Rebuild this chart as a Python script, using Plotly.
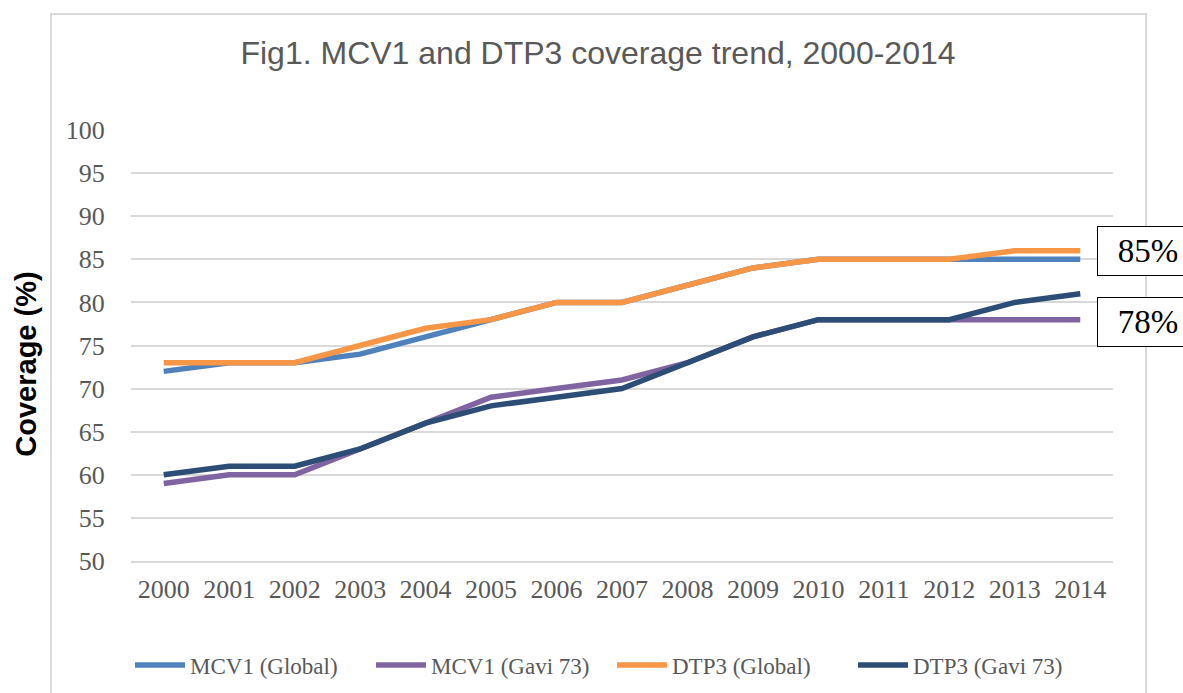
import plotly.graph_objects as go

years = ["2000", "2001", "2002", "2003", "2004", "2005", "2006", "2007",
         "2008", "2009", "2010", "2011", "2012", "2013", "2014"]
mcv1_global = [72, 73, 73, 74, 76, 78, 80, 80, 82, 84, 85, 85, 85, 85, 85]
mcv1_gavi = [59, 60, 60, 63, 66, 69, 70, 71, 73, 76, 78, 78, 78, 78, 78]
dtp3_global = [73, 73, 73, 75, 77, 78, 80, 80, 82, 84, 85, 85, 85, 86, 86]
dtp3_gavi = [60, 61, 61, 63, 66, 68, 69, 70, 73, 76, 78, 78, 78, 80, 81]
series_names = ["MCV1 (Global)", "MCV1 (Gavi 73)", "DTP3 (Global)", "DTP3 (Gavi 73)"]
series_colors = ["#4F81BD", "#8064A2", "#F79646", "#2C4D75"]
y_ticks = [50, 55, 60, 65, 70, 75, 80, 85, 90, 95, 100]
end_labels = ["85%", "78%"]

W, H = 1183, 693
L, R, T, B = 131, 1113, 130, 561  # plot area in px


def px_x(px):
    return (px - L) / (R - L)


def px_y(py):
    return (B - py) / (B - T)


fig = go.Figure()
for name, vals, col in zip(series_names,
                           [mcv1_global, mcv1_gavi, dtp3_global, dtp3_gavi],
                           series_colors):
    fig.add_trace(go.Scatter(x=years, y=vals, name=name, mode="lines",
                             line=dict(color=col, width=5.5)))

serif = "Liberation Serif"
grey = "#595959"

fig.update_layout(
    width=W, height=H,
    margin=dict(l=L, r=W - R, t=T, b=H - B, autoexpand=False),
    paper_bgcolor="white", plot_bgcolor="white",
    title=dict(text="Fig1. MCV1 and DTP3 coverage trend, 2000-2014",
               x=598 / W, xanchor="center", y=1 - 53 / H, yanchor="middle",
               font=dict(family="Liberation Sans", size=32, color=grey)),
    showlegend=True,
    legend=dict(orientation="h", x=px_x(130), xanchor="left",
                y=px_y(665), yanchor="middle",
                font=dict(family=serif, size=23, color=grey),
                itemwidth=50,
                entrywidth=176, entrywidthmode="pixels",
                bgcolor="rgba(0,0,0,0)"),
    xaxis=dict(type="category", range=[-0.5, 14.5], showgrid=False,
               showline=True, linecolor="#D9D9D9", linewidth=1.5,
               ticks="outside", ticklen=4, tickcolor="rgba(0,0,0,0)",
               tickfont=dict(family=serif, size=26, color=grey)),
    yaxis=dict(range=[50, 100], tickvals=y_ticks, showgrid=True,
               gridcolor="#D9D9D9", gridwidth=1.5, zeroline=False,
               ticks="outside", ticklen=20, tickcolor="rgba(0,0,0,0)",
               tickfont=dict(family=serif, size=26, color=grey)),
    shapes=[dict(type="rect", xref="paper", yref="paper",
                 x0=px_x(51), x1=px_x(1146), y0=px_y(720), y1=px_y(14),
                 line=dict(color="#D9D9D9", width=2), layer="below")],
)

annos = [
    dict(text="<b>Coverage (%)</b>", xref="paper", yref="paper",
         x=px_x(26), y=px_y(364), xanchor="center", yanchor="middle",
         textangle=-90, showarrow=False, bgcolor="white",
         width=236, height=36,
         font=dict(family="Liberation Sans", size=29, color="black")),
]
for txt, cy in zip(end_labels, [251, 322]):
    annos.append(dict(text=txt, xref="paper", yref="paper",
                      x=px_x(1097), y=px_y(cy), xanchor="left", yanchor="middle",
                      showarrow=False, bgcolor="white", bordercolor="black",
                      borderwidth=1, borderpad=0, width=100, height=48,
                      align="center",
                      font=dict(family=serif, size=33, color="black")))
fig.update_layout(annotations=annos)

fig.write_html("out.html", config={"displayModeBar": False},
               post_script="document.body.style.margin='0';")
